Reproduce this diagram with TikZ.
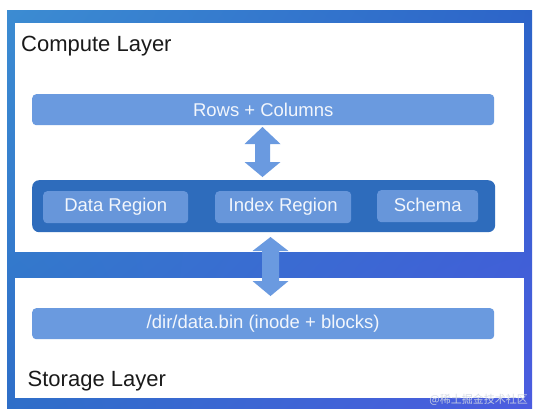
\documentclass[tikz,border=0pt]{standalone}
\usepackage{fontspec}
\setmainfont{Liberation Sans}
\newfontfamily\cjk{Noto Sans CJK SC}
\usetikzlibrary{shadings}
\definecolor{boxlight}{HTML}{6A9ADF}
\definecolor{boxinner}{HTML}{6796DA}
\definecolor{boxdark}{HTML}{2E6CBC}
\definecolor{arrowc}{HTML}{6A9AE0}
\definecolor{boxtext}{HTML}{F2F6FC}
\definecolor{titletext}{HTML}{1A1A1A}
\definecolor{wmtext}{HTML}{D2D8E4}
\definecolor{frameUL}{RGB}{60,140,210}
\definecolor{frameUR}{RGB}{44,100,200}
\definecolor{frameLL}{RGB}{46,110,200}
\definecolor{frameLR}{RGB}{76,92,224}
\newcommand\mydblarrow[7]{% cx, toptip, topbase, botbase, bottip, headhalf, shafthalf
  \fill[arrowc] (#1,#2) -- (#1+#6,#3) -- (#1+#7,#3) -- (#1+#7,#4) -- (#1+#6,#4)
    -- (#1,#5) -- (#1-#6,#4) -- (#1-#7,#4) -- (#1-#7,#3) -- (#1-#6,#3) -- cycle;}
\begin{document}
\begin{tikzpicture}[x=1pt,y=-1pt,
  layerbox/.style={fill=white, draw=none, inner sep=0pt, anchor=north west},
  lightbox/.style={fill=boxlight, rounded corners=4pt, inner sep=0pt, anchor=north west,
    text=boxtext, font=\fontsize{18.5}{22}\selectfont},
  innerbox/.style={fill=boxinner, rounded corners=4pt, inner sep=0pt, anchor=north west,
    text=boxtext, font=\fontsize{18.5}{22}\selectfont},
  darkbox/.style={fill=boxdark, rounded corners=7pt, inner sep=0pt, anchor=north west},
  layerlabel/.style={anchor=base west, inner sep=0pt, text=titletext,
    font=\fontsize{22}{26}\selectfont}]
\useasboundingbox (0,0) rectangle (539,413);
\fill[white] (0,0) rectangle (539,413);
\shade[upper left=frameUL, upper right=frameUR, lower left=frameLL, lower right=frameLR]
  (7,10) rectangle (532,408);
\node[layerbox, minimum width=509pt, minimum height=229pt] (compute) at (15,23) {};
\node[layerbox, minimum width=509pt, minimum height=120pt] (storage) at (15,278) {};
\node[layerlabel] (ctitle) at (21,51) {Compute Layer};
\node[layerlabel] (stitle) at (27.5,386) {Storage Layer};
\node[lightbox, minimum width=462pt, minimum height=31pt] (rows) at (32,94) {Rows + Columns};
\node[darkbox, minimum width=463pt, minimum height=52pt] (region) at (32,180) {};
\node[innerbox, minimum width=145pt, minimum height=32pt] (data) at (43,191) {Data Region};
\node[innerbox, minimum width=136pt, minimum height=32pt] (index) at (215,191) {Index Region};
\node[innerbox, minimum width=101pt, minimum height=32pt, text depth=2pt] (schema) at (377,190) {Schema};
\node[lightbox, minimum width=462pt, minimum height=31pt] (file) at (32,308) {/dir/data.bin (inode + blocks)};
\mydblarrow{262.5}{127}{144}{162}{177}{18}{7.5}
\mydblarrow{270.5}{237}{251}{281}{296}{18}{8.5}
\node[anchor=east, inner sep=0pt, text=wmtext, opacity=0.9,
  font=\cjk\fontsize{11}{12}\selectfont] (wm) at (528,399.5) {@稀土掘金技术社区};
\end{tikzpicture}
\end{document}
